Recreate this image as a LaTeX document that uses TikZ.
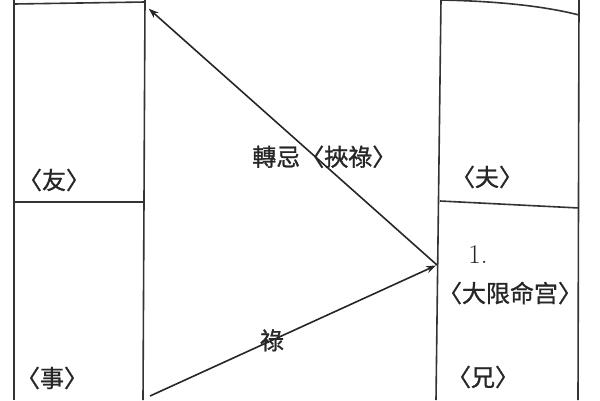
\documentclass[tikz,border=0pt]{standalone}
\usepackage{fontspec}
\newfontfamily\cjk[FakeBold=1]{Noto Sans CJK TC}
\usetikzlibrary{arrows.meta,positioning}
\tikzstyle{wall}=[draw=black!80,line width=1.6pt]
\tikzstyle{post}=[-{Stealth[length=10pt,width=7pt]},shorten >=1pt,line width=1.6pt,draw=black!85]
\tikzstyle{palace}=[font=\cjk\fontsize{24}{28}\selectfont,inner sep=0pt,text=black!85]

\begin{document}
\begin{tikzpicture}[x=1pt,y=-1pt]
    \useasboundingbox (0,0) rectangle (600,400);
    
    % walls of the palaces
    \draw[wall] (14,0) -- (14,400);
    \draw[wall] (145,0) -- (143,400);
    \draw[wall] (14,4) -- (145,2);
    \draw[wall] (14,202) -- (144,202);
    \draw[wall] (441,0) -- (436,400);
    \draw[wall] (579,0) -- (578,400);
    \draw[wall] (441,0) .. controls (490,1) and (540,5) .. (579,15);
    \draw[wall] (440,201) -- (579,208);
    
    \node[palace] (you)  at (54,180)  {〈友〉};
    \node[palace] (shi)  at (52,378)  {〈事〉};
    \node[palace] (fu)   at (487,177) {〈夫〉};
    \node[palace] (xiong) at (483,377) {〈兄〉};
    \node[palace,font=\fontsize{27}{30}\selectfont] (num) at (478,255) {1.};
    \node[palace] (daxian) at (510,293) {〈大限命宫〉};
    
    \coordinate (ming) at (437,265);
    \coordinate (top)  at (148,8);
    \coordinate (low)  at (150,396);
    
    \path (low) edge[post] node[palace,pos=0.425] {祿} (ming)
          (ming) edge[post] node[palace,pos=0.39,yshift=8pt] {轉忌〈挾祿〉} (top);
    
\end{tikzpicture}
\end{document}
